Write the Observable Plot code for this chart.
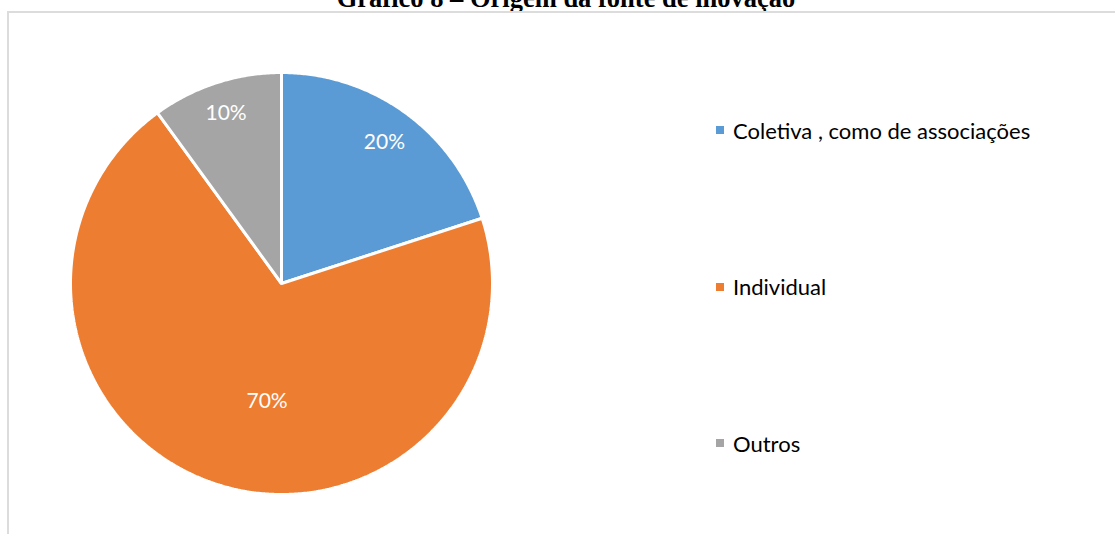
<!DOCTYPE html>
<html>
<head>
<meta charset="utf-8">
<script src="https://cdn.jsdelivr.net/npm/d3@7"></script>
<script src="https://cdn.jsdelivr.net/npm/@observablehq/plot@0.6"></script>
<style>
  html, body { margin: 0; padding: 0; background: #fff; }
  body { width: 1115px; height: 534px; overflow: hidden; position: relative; }
  #title { position: absolute; left: 0; width: 1132px; top: -17px; text-align: center;
    font-family: "Liberation Serif", "Times New Roman", serif; font-weight: bold; font-size: 26.5px; color: #000; white-space: nowrap; }
  #frame { position: absolute; left: 7px; top: 11px; width: 1200px; height: 600px; border: 2px solid #dcdcdc; box-sizing: border-box; }
  #chart { position: absolute; left: 0; top: 0; }
  #legend { position: absolute; left: 716px; top: 52px; font-family: Lato, "Open Sans", sans-serif; font-size: 22px; color: #000; }
  .item { height: 156.5px; display: flex; align-items: center; }
  .sw { width: 8px; height: 8px; margin-right: 9px; }
</style>
</head>
<body>
<div id="title">Gráfico 8 – Origem da fonte de inovação</div>
<div id="frame"></div>
<div id="chart"></div>
<div id="legend"></div>
<script>
const categories = ["Coletiva , como de associações", "Individual", "Outros"];
const values = [20, 70, 10];
const labels = ["20%", "70%", "10%"];
const colors = ["#5B9BD5", "#ED7D31", "#A5A5A5"];

// label placement (layout only)
const labelRadius = [0.83, 0.56, 0.85];
const labelAngleNudge = [0, -11, 0];

const pie = d3.pie().sort(null).value(d => d.value).startAngle(0).endAngle(2 * Math.PI);
const arcs = pie(categories.map((c, i) => ({category: c, value: values[i], label: labels[i]})));

const polys = [];
arcs.forEach((a) => {
  const cat = a.data.category;
  polys.push({category: cat, x: 0, y: 0});
  const n = Math.max(2, Math.ceil((a.endAngle - a.startAngle) / (Math.PI / 360)));
  for (let k = 0; k <= n; k++) {
    const t = a.startAngle + (a.endAngle - a.startAngle) * k / n;
    polys.push({category: cat, x: Math.sin(t), y: Math.cos(t)});
  }
});

const labelData = arcs.map((a, i) => {
  const m = (a.startAngle + a.endAngle) / 2 + labelAngleNudge[i] * Math.PI / 180;
  return {label: a.data.label, x: labelRadius[i] * Math.sin(m), y: labelRadius[i] * Math.cos(m)};
});

const chart = Plot.plot({
  width: 1115,
  height: 534,
  margin: 0,
  x: {domain: [-1, 1], range: [70, 492], axis: null},
  y: {domain: [-1, 1], range: [494, 72], axis: null},
  color: {domain: categories, range: colors},
  marks: [
    Plot.line(polys, {x: "x", y: "y", z: "category", fill: "category", stroke: "white", strokeWidth: 3, curve: "linear-closed", strokeLinejoin: "miter"}),
    Plot.text(labelData, {x: "x", y: "y", text: "label", fill: "white", fontSize: 21, fontFamily: "Lato, 'Open Sans', sans-serif"})
  ]
});
chart.style.background = "transparent";
document.getElementById("chart").appendChild(chart);

const legend = document.getElementById("legend");
categories.forEach((c, i) => {
  const item = document.createElement("div");
  item.className = "item";
  const sw = document.createElement("span");
  sw.className = "sw";
  sw.style.background = colors[i];
  const tx = document.createElement("span");
  tx.textContent = c;
  item.appendChild(sw);
  item.appendChild(tx);
  legend.appendChild(item);
});
</script>
</body>
</html>
